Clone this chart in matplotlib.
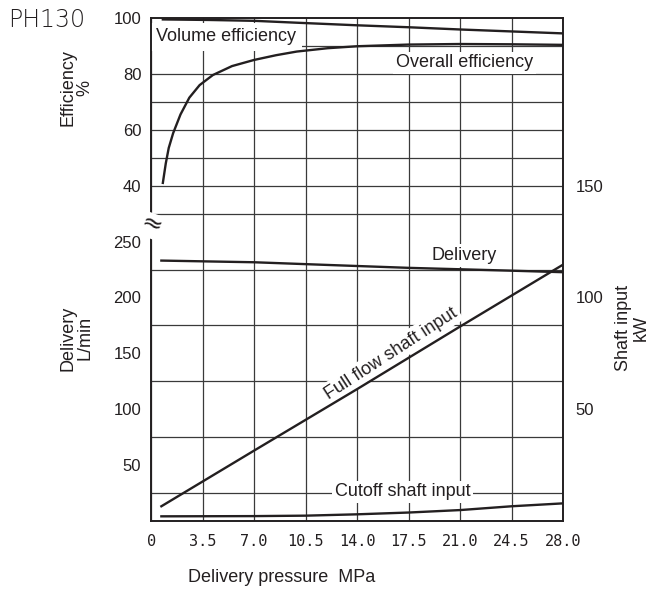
import numpy as np
import matplotlib.pyplot as plt

plt.rcParams['font.family'] = ['Liberation Sans Narrow', 'Liberation Sans', 'DejaVu Sans']

# data
pressure_ticks = [0, 3.5, 7.0, 10.5, 14.0, 17.5, 21.0, 24.5, 28.0]
pressure_labels = ['0', '3.5', '7.0', '10.5', '14.0', '17.5', '21.0', '24.5', '28.0']

vol_x = [0.8, 4.0, 7.0, 10.0, 14.0, 17.5, 21.0, 24.5, 28.0]
vol_eff = [99.5, 99.3, 99.0, 98.3, 97.4, 96.7, 95.9, 95.2, 94.5]

ov_x = [0.8, 1.0, 1.2, 1.5, 2.0, 2.6, 3.3, 4.2, 5.5, 7.0, 8.5, 9.9, 12.0, 14.0, 17.5, 21.0, 24.5, 28.0]
ov_eff = [41.0, 48.0, 53.5, 58.8, 65.5, 71.5, 76.0, 79.6, 82.8, 85.0, 86.7, 88.0, 89.2, 89.9, 90.5, 90.7, 90.6, 90.4]

del_x = [0.7, 7.0, 12.2, 17.5, 24.4, 28.0]
delivery = [233.0, 231.5, 229.0, 226.5, 224.0, 222.6]

full_x = [0.7, 7.0, 14.0, 21.0, 28.0]
full_kw = [6.6, 31.5, 59.0, 87.0, 114.7]

cut_x = [0.7, 7.0, 10.5, 14.0, 17.5, 21.0, 24.5, 28.0]
cut_kw = [2.1, 2.2, 2.4, 3.0, 3.8, 4.9, 6.6, 7.9]

eff_ticks = [40, 60, 80, 100]
del_ticks = [50, 100, 150, 200, 250]
kw_ticks = [50, 100, 150]

ink = '#231f20'
grid_c = '#3a3a3a'

fig = plt.figure(figsize=(6.54, 5.91), dpi=100)
ax = fig.add_axes([0.231, 0.1184, 0.630, 0.8511])
ax.set_xlim(0, 28)
ax.set_ylim(0, 450)

# grid
ax.set_xticks(pressure_ticks)
ax.set_xticklabels(pressure_labels, family='DejaVu Sans Mono', fontsize=11, color=ink)
ax.set_yticks(np.arange(25, 450, 25), minor=True)
ax.set_yticks(del_ticks)
ax.set_yticklabels([str(v) for v in del_ticks], fontsize=12, color=ink)
ax.grid(which='minor', axis='y', color=grid_c, lw=0.9)
ax.grid(which='major', axis='x', color=grid_c, lw=0.9)
ax.tick_params(which='both', length=0)
ax.tick_params(axis='y', pad=7)
ax.tick_params(axis='x', pad=9)
for s in ax.spines.values():
    s.set_linewidth(1.4)
    s.set_color(ink)

# efficiency scale (top part)
ax_e = ax.twinx()
ax_e.set_ylim(-80, 100)
ax_e.yaxis.tick_left()
ax_e.set_yticks(eff_ticks)
ax_e.set_yticklabels([str(v) for v in eff_ticks], fontsize=12, color=ink)
ax_e.tick_params(length=0, pad=7)
for s in ax_e.spines.values():
    s.set_visible(False)

# shaft input scale (right)
ax_k = ax.twinx()
ax_k.set_ylim(0, 225)
ax_k.set_yticks(kw_ticks)
ax_k.set_yticklabels([str(v) for v in kw_ticks], fontsize=12, color=ink)
ax_k.tick_params(length=0, pad=9)
for s in ax_k.spines.values():
    s.set_visible(False)

lw = 1.7
box = dict(facecolor='white', edgecolor='none', pad=2)

ax_e.plot(vol_x, vol_eff, color=ink, lw=lw, zorder=6)
ax_e.plot(ov_x, ov_eff, color=ink, lw=lw, zorder=6)
ax.plot(del_x, delivery, color=ink, lw=lw, zorder=6)
ax_k.plot(full_x, full_kw, color=ink, lw=lw, zorder=6)
ax_k.plot(cut_x, cut_kw, color=ink, lw=lw, zorder=6)

# curve labels live on the base axes so the spines stay on top of their boxes
ax.text(0.35, 93.3, 'Volume efficiency', fontsize=13, color=ink, ha='left', va='center',
        transform=ax_e.transData, bbox=dict(facecolor='white', edgecolor='none', pad=4), zorder=2)
ax.text(21.3, 84.0, 'Overall efficiency', fontsize=13, color=ink, ha='center', va='center',
        transform=ax_e.transData, bbox=box, zorder=2)
ax.text(21.3, 237.5, 'Delivery', fontsize=13, color=ink, ha='center', va='center',
        bbox=box, zorder=2)
ax.text(16.3, 75.0, 'Full flow shaft input', fontsize=13, color=ink, ha='center', va='center',
        transform=ax_k.transData, rotation=33, bbox=box, zorder=2)
ax.text(17.1, 13.0, 'Cutoff shaft input', fontsize=13, color=ink, ha='center', va='center',
        transform=ax_k.transData, bbox=box, zorder=2)

# axis break mark
ax.text(0.05, 264, '\u2248', fontsize=18, color=ink, family='DejaVu Sans', ha='center',
        va='center', rotation=-20, bbox=dict(facecolor='white', edgecolor='none', pad=0.3),
        clip_on=False, zorder=7)

fig.text(0.012, 0.966, 'PH130', fontsize=17, color=ink, family='DejaVu Sans',
         fontweight='light', ha='left', va='center')
fig.text(0.117, 0.851, 'Efficiency\n%', fontsize=13, color=ink, rotation=90,
         ha='center', va='center', linespacing=1.0)
fig.text(0.117, 0.428, 'Delivery\nL/min', fontsize=13, color=ink, rotation=90,
         ha='center', va='center', linespacing=1.0)
fig.text(0.967, 0.445, 'Shaft input\nkW', fontsize=13, color=ink, rotation=90,
         ha='center', va='center', linespacing=1.0)
fig.text(0.43, 0.022, 'Delivery pressure  MPa', fontsize=13, color=ink,
         ha='center', va='center')

fig.savefig('out.png', dpi=100)
